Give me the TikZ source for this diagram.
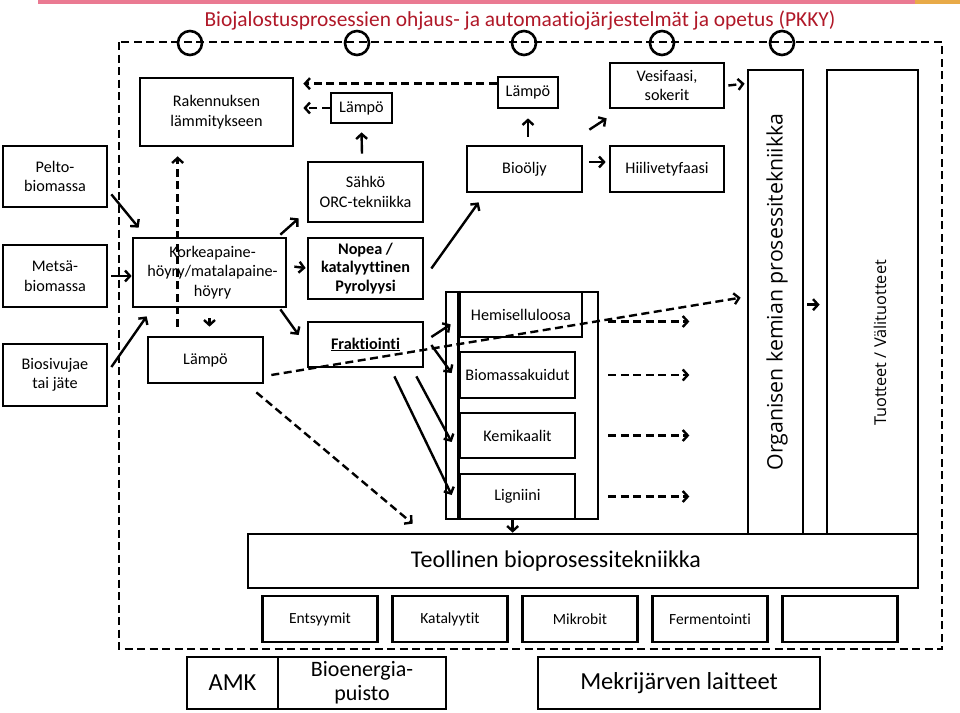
\documentclass[tikz,border=0pt]{standalone}
\usepackage{fontspec}
\setmainfont[Ligatures=NoCommon]{Carlito}
\newfontfamily\osans{Open Sans}
\usetikzlibrary{arrows.meta,calc}
\definecolor{titlered}{RGB}{176,24,40}
\definecolor{barpink}{RGB}{234,122,146}
\definecolor{barorange}{RGB}{232,170,72}
\tikzset{
  box/.style={draw, line width=2.7pt, inner sep=1pt, align=center, font=\fontsize{16.2}{19.5}\selectfont},
  arr/.style={line width=2.4pt, -{Straight Barb[length=5pt,width=11pt]}},
  darr/.style={arr, dash pattern=on 8pt off 4.5pt},
  frame/.style={line width=2.6pt, dash pattern=on 8pt off 4.5pt},
  small/.style={font=\fontsize{15.5}{18}\selectfont},
}
\begin{document}
\begin{tikzpicture}[x=1pt,y=-1pt]
\useasboundingbox (0,0) rectangle (960,712);
% top bar
\fill[barpink] (38,0) rectangle (915,4);
\fill[barorange] (915,0) rectangle (960,4);
\node[text=titlered, font=\fontsize{21.4}{24}\selectfont] (title) at (520,21) {Biojalostusprosessien ohjaus- ja automaatiojärjestelmät ja opetus (PKKY)};
% dashed frame and circles
\draw[frame] (119,42) rectangle (942,649);
\foreach \cx [count=\i] in {190,357,524,662,782} \draw[line width=2.6pt] (\cx,43) circle (12pt);
% left inputs
\node[box, minimum width=104pt, minimum height=61pt] (pelto) at (55,176.5) {Pelto-\\biomassa};
\node[box, minimum width=104pt, minimum height=62pt] (metsa) at (55,276) {Metsä-\\biomassa};
\node[box, minimum width=104pt, minimum height=62pt] (biosiv) at (55,375) {Biosivujae\\tai jäte};
% first column
\node[box, minimum width=153pt, minimum height=68pt] (rak) at (216.5,112) {Rakennuksen\\lämmitykseen};
\node[box, minimum width=153pt, minimum height=69pt] (kork) at (209.5,272.5) {\hspace*{6pt}Korkeapaine-\\\hspace*{6pt}höyry/matalapaine-\\\hspace*{6pt}höyry};
\node[box, minimum width=115pt, minimum height=46pt] (lampoB) at (205.5,360) {Lämpö};
% second column
\node[box, minimum width=61pt, minimum height=30pt] (lampoA) at (361.5,108) {Lämpö};
\node[box, minimum width=115pt, minimum height=61pt, font=\bfseries\fontsize{16.2}{18.5}\selectfont] (nopea) at (365.5,268.5) {Nopea /\\katalyyttinen\\Pyrolyysi};
\node[box, minimum width=115pt, minimum height=60pt] (sahko) at (365.5,192) {Sähkö\\ORC-tekniikka};
\node[box, minimum width=115pt, minimum height=45pt] (frak) at (365.5,344.5) {\underline{\textbf{Fraktiointi}}};
% third column
\node[box, minimum width=60pt, minimum height=31pt] (lampoC) at (528,92.5) {Lämpö};
\node[box, minimum width=115pt, minimum height=46pt] (bio) at (524.5,169) {Bioöljy};
\node[box, minimum width=114pt, minimum height=45pt] (vesi) at (667,85.5) {Vesifaasi,\\sokerit};
\node[box, minimum width=114pt, minimum height=46pt] (hiili) at (667,169) {Hiilivetyfaasi};
% fraction container
\node[box, minimum width=152pt, minimum height=227pt] (cont) at (522,405.5) {};
\draw[line width=2.7pt] ($(cont.north west)+(14,0)$) -- ($(cont.south west)+(14,0)$);
\node[box, minimum width=122pt, minimum height=45pt] (hemi) at (521,314.5) {Hemiselluloosa};
\node[box, minimum width=115pt, minimum height=46pt] (biomk) at (517.5,375) {Biomassakuidut};
\node[box, minimum width=115pt, minimum height=45pt] (kemi) at (517.5,435.5) {Kemikaalit};
\node[box, minimum width=115pt, minimum height=45pt] (lign) at (517.5,496.5) {Ligniini};
% right columns
\node[box, minimum width=55pt, minimum height=464pt] (org) at (775.5,302) {};
\node[box, minimum width=91pt, minimum height=464pt] (tuot) at (872.5,302) {};
\node[rotate=90, font=\osans\fontsize{21.3}{25}\selectfont] (orgt) at (777,292) {Organisen kemian prosessitekniikka};
\node[rotate=90, font=\osans\fontsize{16.3}{19}\selectfont] (tuott) at (880,343) {Tuotteet / Välituotteet};
% bottom
\node[box, minimum width=670pt, minimum height=54pt, font=\fontsize{24}{28}\selectfont] (teol) at (583,561) {Teollinen bioprosessitekniikka\hspace*{54pt}};
\node[box, minimum width=115pt, minimum height=46pt, small] (entsy) at (320,619) {Entsyymit};
\node[box, minimum width=115pt, minimum height=46pt, small] (katal) at (450,619) {Katalyytit};
\node[box, minimum width=115pt, minimum height=46pt, small] (mikro) at (580,619) {Mikrobit};
\node[box, minimum width=115pt, minimum height=46pt, small] (ferme) at (710,619) {Fermentointi};
\node[box, minimum width=115pt, minimum height=46pt] (tyhja) at (840,619) {};
\node[box, minimum width=91pt, minimum height=52pt, font=\fontsize{24.5}{28}\selectfont] (amk) at (232.5,683) {AMK};
\node[box, minimum width=168pt, minimum height=52pt, font=\fontsize{22}{24}\selectfont] (bioen) at (362,683) {Bioenergia-\\puisto};
\node[box, minimum width=282pt, minimum height=52pt, font=\fontsize{24.5}{28}\selectfont] (mekri) at (679,683) {Mekrijärven laitteet};
% connectors
\draw[arr] ($(pelto.south east)+(3,-14)$) -- ($(kork.north west)+(7,-9)$);
\draw[arr] ($(metsa.east)+(3,0)$) -- (kork.west |- metsa.east);
\draw[arr] ($(biosiv.east)+(3,-8)$) -- ($(kork.south west)+(15,8)$);
\draw[darr] ($(lampoB.north west)+(31,-9)$) -- ($(rak.south west)+(39,9)$);
\draw[arr] ($(kork.south)+(0,10)$) -- ($(lampoB.north)+(4,-9)$);
\draw[arr] ($(kork.north east)+(-7,-2)$) -- ($(sahko.south west)+(-8,-5)$);
\draw[arr] ($(kork.north east)+(7,30)$) -- ($(nopea.west)+(-1,-0.5)$);
\draw[arr] ($(kork.south east)+(-7,1)$) -- ($(frak.west)+(-8,-9.5)$);
\draw[arr] ($(sahko.north)+(-3.5,-7)$) -- ($(lampoA.south)+(0,8)$);
\draw[darr] (lampoA.west) -- ($(rak.east)+(9,-4)$);
\draw[darr] ($(lampoC.north west)+(0,8)$) -- ($(rak.north east)+(9,7)$);
\draw[arr] ($(nopea.east)+(7,0)$) -- ($(bio.south west)+(13,9)$);
\draw[arr] ($(bio.north)+(3.5,-8)$) -- ($(lampoC.south)+(0,9)$);
\draw[arr] ($(bio.north east)+(6,-15)$) -- ($(vesi.south west)+(-2,9)$);
\draw[arr] ($(bio.east)+(6,-7)$) -- ($(hiili.west)+(-3,-7)$);
\draw[darr] ($(vesi.east)+(3,0)$) -- ($(org.north west)+(-2,15)$);
\draw[arr] ($(frak.east)+(7,-7.5)$) -- ($(hemi.south west)+(-8,-14)$);
\draw[arr] ($(frak.east)+(7,0.5)$) -- ($(biomk.west)+(-7,-2)$);
\draw[arr] ($(frak.south east)+(-8,8)$) -- ($(kemi.west)+(-7,6.5)$);
\draw[arr] ($(frak.south east)+(-30,8)$) -- ($(lign.west)+(-7,-1.5)$);
\draw[darr] ($(lampoB.east)+(7,15)$) -- ($(org.north west)+(-6,229)$);
\draw[darr] ($(lampoB.south east)+(-8,8)$) -- ($(teol.north west)+(166,-9)$);
\coordinate (hemiE) at ($(hemi.east -| cont.east)+(90,7)$);
\coordinate (biomkE) at ($(biomk.east -| cont.east)+(90,0)$);
\coordinate (kemiE) at ($(kemi.east -| cont.east)+(90,0)$);
\coordinate (lignE) at ($(lign.east -| cont.east)+(90,0)$);
\draw[darr] ($(hemi.east -| cont.east)+(9,7)$) -- (hemiE);
\draw[darr] ($(biomk.east -| cont.east)+(9,0)$) -- (biomkE);
\draw[darr] ($(kemi.east -| cont.east)+(9,0)$) -- (kemiE);
\draw[darr] ($(lign.east -| cont.east)+(9,0)$) -- (lignE);
\draw[arr] ($(cont.south west)+(68,0)$) -- ($(teol.north west)+(266,0)$);
\draw[arr] ($(org.north east)+(3,236)$) -- ($(tuot.north west)+(-6,236)$);
\end{tikzpicture}
\end{document}
